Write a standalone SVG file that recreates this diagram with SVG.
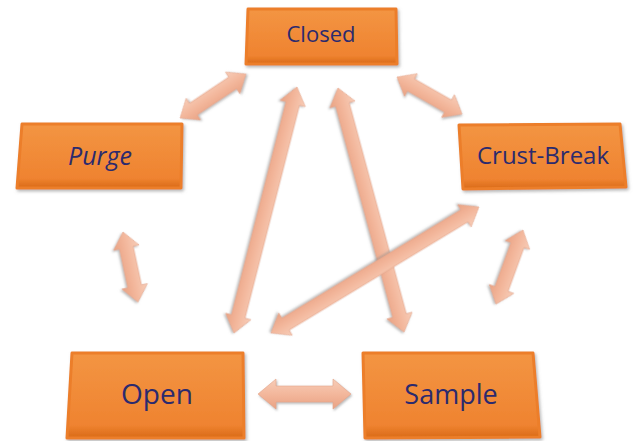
<svg xmlns="http://www.w3.org/2000/svg" width="636" height="441" viewBox="0 0 636 441">
<defs>
<linearGradient id="boxg" x1="0" y1="0" x2="0" y2="1">
<stop offset="0" stop-color="#f39543"/>
<stop offset="0.85" stop-color="#ef8330"/>
<stop offset="1" stop-color="#d96a18"/>
</linearGradient>
<linearGradient id="arrg" x1="0" y1="0" x2="0" y2="1">
<stop offset="0" stop-color="#f7cdb8"/>
<stop offset="0.5" stop-color="#f3b79c"/>
<stop offset="1" stop-color="#e9a283"/>
</linearGradient>
<filter id="sh" x="-20%" y="-20%" width="140%" height="140%">
<feDropShadow dx="1.5" dy="2" stdDeviation="1.5" flood-color="#808080" flood-opacity="0.55"/>
</filter>
<filter id="ash" x="-20%" y="-40%" width="140%" height="180%">
<feDropShadow dx="1" dy="1.5" stdDeviation="1" flood-color="#8a8a8a" flood-opacity="0.6"/>
</filter>
</defs>
<style>
.box{fill:url(#boxg);stroke:#ec7e2a;stroke-width:3;stroke-linejoin:round;filter:url(#sh)}
.lbl{font-family:"Open Sans","Noto Sans",sans-serif;fill:#2b2a6e;text-anchor:middle}
.arr{fill:url(#arrg);stroke:#e4a58a;stroke-width:0.6;filter:url(#ash)}
</style>
<rect width="636" height="441" fill="#ffffff"/>
<g id="connectors">
<path class="arr" transform="translate(180,118) rotate(-33.7)" d="M0,0 L16,-13 L16,-7 L63.3,-7 L63.3,-13 L79.3,0 L63.3,13 L63.3,7 L16,7 L16,13 Z"/>
<path class="arr" transform="translate(397,77) rotate(29.65)" d="M0,0 L16,-13 L16,-7 L58.8,-7 L58.8,-13 L74.8,0 L58.8,13 L58.8,7 L16,7 L16,13 Z"/>
<path class="arr" transform="translate(123,232) rotate(77.9)" d="M0,0 L16,-13 L16,-7 L55.6,-7 L55.6,-13 L71.6,0 L55.6,13 L55.6,7 L16,7 L16,13 Z"/>
<path class="arr" transform="translate(523,230) rotate(110)" d="M0,0 L16,-13 L16,-7 L62.8,-7 L62.8,-13 L78.8,0 L62.8,13 L62.8,7 L16,7 L16,13 Z"/>
<path class="arr" transform="translate(258,394)" d="M0,0 L18,-15 L18,-8 L75,-8 L75,-15 L93,0 L75,15 L75,8 L18,8 L18,15 Z"/>
<path class="arr" transform="translate(297,87) rotate(104.36)" d="M0,0 L17,-13 L17,-7 L236.9,-7 L236.9,-13 L253.9,0 L236.9,13 L236.9,7 L17,7 L17,13 Z"/>
<path class="arr" transform="translate(338,88) rotate(74.86)" d="M0,0 L17,-13 L17,-7 L235.8,-7 L235.8,-13 L252.8,0 L235.8,13 L235.8,7 L17,7 L17,13 Z"/>
<path class="arr" transform="translate(479,207) rotate(148.8)" d="M0,0 L17,-13 L17,-7 L226.2,-7 L226.2,-13 L243.2,0 L226.2,13 L226.2,7 L17,7 L17,13 Z"/>
</g>
<g id="node-closed">
<path class="box" d="M248,9 L396,9 L397,64 L246,64 Z"/>
<text class="lbl" x="321" y="42" font-size="22">Closed</text>
</g>
<g id="node-purge">
<path class="box" d="M22,124 L182,124 L181,188 L17,188 Z"/>
<text class="lbl" x="100" y="165" font-size="25" font-style="italic">Purge</text>
</g>
<g id="node-crust-break">
<path class="box" d="M459,125 L620,124 L626,187 L463,189 Z"/>
<text class="lbl" x="543" y="164" font-size="24">Crust-Break</text>
</g>
<g id="node-open">
<path class="box" d="M72,353 L243,353 L244,438 L67,438 Z"/>
<text class="lbl" x="157" y="404" font-size="28">Open</text>
</g>
<g id="node-sample">
<path class="box" d="M363,353 L533,353 L540,437 L365,438 Z"/>
<text class="lbl" x="451" y="404" font-size="27">Sample</text>
</g>
</svg>
